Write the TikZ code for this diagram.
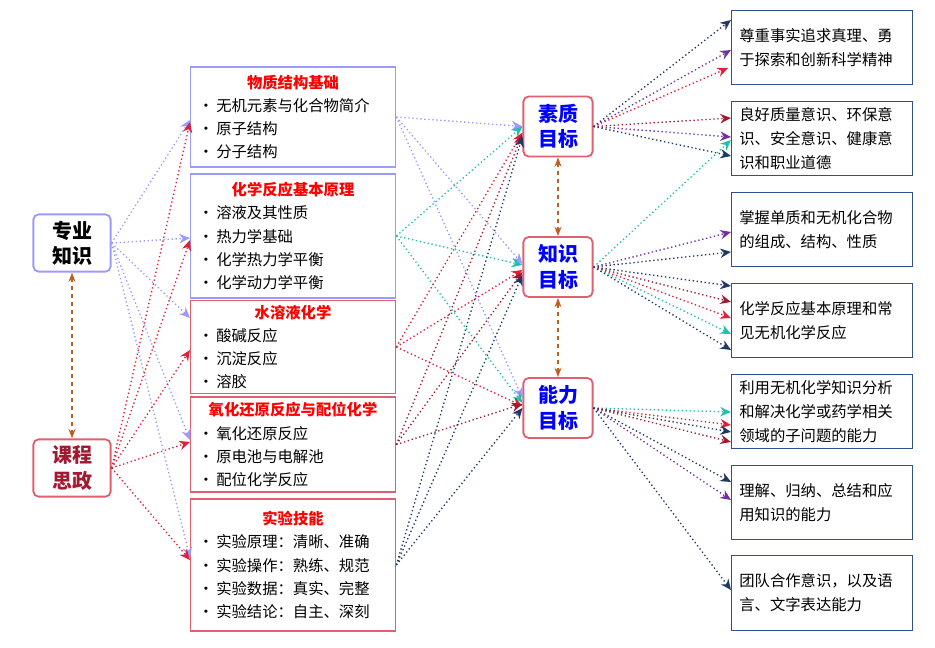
\documentclass[tikz,border=0pt]{standalone}
\usepackage{fontspec}
\setmainfont{Noto Sans CJK SC}
\usetikzlibrary{arrows.meta,calc}
\definecolor{lblue}{HTML}{9A9AFF}
\definecolor{lred}{HTML}{E06070}
\definecolor{cred}{HTML}{E0203A}
\definecolor{dred}{HTML}{A01A30}
\definecolor{navy}{HTML}{203864}
\definecolor{purp}{HTML}{7030A0}
\definecolor{teal2}{HTML}{20C0B0}
\definecolor{brown2}{HTML}{C06020}
\definecolor{boxblue}{HTML}{2F4F8F}
\tikzset{
  link/.style={dotted, line width=1pt, -{Stealth[length=8pt,width=7pt]}},
  tie/.style={dashed, line width=1.3pt, brown2, {Stealth[length=7pt]}-{Stealth[length=7pt]}},
  side/.style={draw=#1, line width=1.4pt, rounded corners=4pt, minimum width=58pt, minimum height=43pt,
    align=center, font=\fontsize{15}{19}\selectfont\bfseries},
  goal/.style={draw=lred, line width=1.4pt, rounded corners=4pt, minimum width=52pt, minimum height=45pt,
    align=center, text=blue, font=\fontsize{15}{19}\selectfont\bfseries},
  topic/.style={draw=#1, line width=1pt, minimum width=154pt, text width=142pt, align=left,
    font=\fontsize{11.5}{17.3}\selectfont},
  aim/.style={draw=boxblue, line width=0.9pt, minimum width=136pt, minimum height=56pt, text width=124pt,
    align=left, font=\fontsize{11.5}{18}\selectfont},
}
\newcommand{\ttl}[1]{\hfill\textcolor{red}{\bfseries #1}\hfill\null}
\newcommand{\itm}{•\hspace{2pt}}
\begin{document}
\begin{tikzpicture}[x=0.75pt,y=-0.75pt]
  \useasboundingbox (0,0) rectangle (935,648);

  % left nodes
  \node[side=lblue] (zy) at (72,243) {专业\\知识};
  \node[side=lred, text=dred] (sz) at (72,468) {课程\\思政};
  \draw[tie] (zy.south) -- (sz.north);

  % topics
  \node[topic=lblue, minimum height=75pt] (b1) at (293,117) {\ttl{物质结构基础}\\\itm 无机元素与化合物简介\\\itm 原子结构\\\itm 分子结构};
  \node[topic=lblue, minimum height=93pt] (b2) at (293,236) {\ttl{化学反应基本原理}\\\itm 溶液及其性质\\\itm 热力学基础\\\itm 化学热力学平衡\\\itm 化学动力学平衡};
  \node[topic=lred, minimum height=69pt] (b3) at (293,347) {\ttl{水溶液化学}\\\itm 酸碱反应\\\itm 沉淀反应\\\itm 溶胶};
  \node[topic=lred, minimum height=71pt] (b4) at (293,444.5) {\ttl{氧化还原反应与配位化学}\\\itm 氧化还原反应\\\itm 原电池与电解池\\\itm 配位化学反应};
  \node[topic=lred, minimum height=99pt] (b5) at (293,565) {\ttl{实验技能}\\\itm 实验原理：清晰、准确\\\itm 实验操作：熟练、规范\\\itm 实验数据：真实、完整\\\itm 实验结论：自主、深刻};

  % goals
  \node[goal] (g1) at (558,126.5) {素质\\目标};
  \node[goal] (g2) at (558,267) {知识\\目标};
  \node[goal] (g3) at (558,408) {能力\\目标};
  \draw[tie] (g1.south) -- (g2.north);
  \draw[tie] (g2.south) -- (g3.north);

  % aims
  \node[aim] (r1) at (822,47.5) {尊重事实追求真理、勇\\于探索和创新科学精神};
  \node[aim] (r2) at (822,138.5) {良好质量意识、环保意\\识、安全意识、健康意\\识和职业道德};
  \node[aim] (r3) at (822,229.5) {掌握单质和无机化合物\\的组成、结构、性质};
  \node[aim] (r4) at (822,320.5) {化学反应基本原理和常\\见无机化学反应};
  \node[aim] (r5) at (822,411.5) {利用无机化学知识分析\\和解决化学或药学相关\\领域的子问题的能力};
  \node[aim] (r6) at (822,502.5) {理解、归纳、总结和应\\用知识的能力};
  \node[aim] (r7) at (822,593) {团队合作意识，以及语\\言、文字表达能力};

  % left links
  \foreach \t/\y in {b1/120,b2/238,b3/318,b4/440,b5/558}
    \draw[link, lblue] (zy.east) -- (190,\y);
  \foreach \t/\y in {b1/122,b2/240,b3/350,b4/442,b5/560}
    \draw[link, cred] (sz.east) -- (190,\y);

  % middle links
  \draw[link, lblue] (b1.east) -- (g1.west);
  \draw[link, lblue] (b1.east) -- ($(g2.west)+(0,-3)$);
  \draw[link, lblue] (b1.east) -- ($(g3.west)+(0,-10)$);
  \draw[link, teal2] (b2.east) -- (g1.west);
  \draw[link, teal2] (b2.east) -- ($(g2.west)+(0,-2)$);
  \draw[link, teal2] (b2.east) -- ($(g3.west)+(0,-5)$);
  \draw[link, cred] (b3.east) -- ($(g1.west)+(0,6)$);
  \draw[link, cred] (b3.east) -- ($(g2.west)+(0,3)$);
  \draw[link, cred] (b3.east) -- ($(g3.west)+(0,-2)$);
  \draw[link, dred] (b4.east) -- ($(g1.west)+(0,8)$);
  \draw[link, dred] (b4.east) -- ($(g2.west)+(0,5)$);
  \draw[link, dred] (b4.east) -- ($(g3.west)+(0,-4)$);
  \draw[link, navy] (b5.east) -- ($(g1.west)+(0,10)$);
  \draw[link, navy] (b5.east) -- ($(g2.west)+(0,8)$);
  \draw[link, navy] (b5.east) -- ($(g3.west)+(0,0)$);

  % right links
  \draw[link, navy] (g1.east) -- (731,20);
  \draw[link, purp] (g1.east) -- (731,50);
  \draw[link, cred] (g1.east) -- (728,68);
  \draw[link, dred] (g1.east) -- (731,118);
  \draw[link, purp] (g1.east) -- (731,137);
  \draw[link, navy] (g1.east) -- (731,156);
  \draw[link, teal2] (g2.east) -- (731,140);
  \draw[link, purp] (g2.east) -- (731,232);
  \draw[link, navy] (g2.east) -- (731,252);
  \draw[link, navy] (g2.east) -- (731,286);
  \draw[link, dred] (g2.east) -- (731,302);
  \draw[link, cred] (g2.east) -- (731,318);
  \draw[link, teal2] (g2.east) -- (731,334);
  \draw[link, navy] (g2.east) -- (731,350);
  \draw[link, teal2] (g3.east) -- (731,412);
  \draw[link, cred] (g3.east) -- (731,425);
  \draw[link, navy] (g3.east) -- (731,432);
  \draw[link, dred] (g3.east) -- (731,442);
  \draw[link, navy] (g3.east) -- (731,482);
  \draw[link, purp] (g3.east) -- (731,500);
  \draw[link, navy] (g3.east) -- (731,590);
\end{tikzpicture}
\end{document}
